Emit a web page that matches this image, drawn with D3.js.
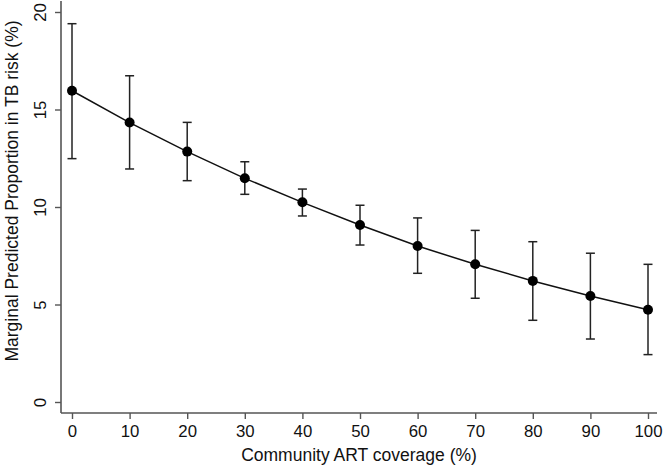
<!DOCTYPE html>
<html><head><meta charset="utf-8">
<script src="https://cdn.jsdelivr.net/npm/d3@7"></script>
<style>body{margin:0;background:#fff}svg{display:block}text{font-family:"Liberation Sans",Arial,sans-serif}</style>
</head><body><svg id="c" width="663" height="466"></svg>
<script>
const coverage = [0,10,20,30,40,50,60,70,80,90,100];
const margin = [15.96,14.33,12.84,11.47,10.24,9.08,8.00,7.06,6.21,5.44,4.73];
const upper = [19.40,16.73,14.34,12.32,10.92,10.09,9.44,8.80,8.22,7.63,7.06];
const lower = [12.48,11.95,11.35,10.65,9.54,8.05,6.60,5.32,4.19,3.23,2.43];
const xTicks = [0,10,20,30,40,50,60,70,80,90,100];
const yTicks = [0,5,10,15,20];

const svg = d3.select("#c");
const x = d3.scaleLinear().domain([0,100]).range([72,648]);
const y = d3.scaleLinear().domain([0,20]).range([402,12]);
const axisColor = "#555";

const xAxis = svg.append("g").attr("transform","translate(0,413)")
  .call(d3.axisBottom(x).tickValues(xTicks).tickSize(6).tickSizeOuter(0).tickPadding(4));
xAxis.select(".domain").attr("d","M61,0H657");
const yAxis = svg.append("g").attr("transform","translate(61,0)")
  .call(d3.axisLeft(y).tickValues(yTicks).tickSize(6).tickSizeOuter(0));
yAxis.select(".domain").attr("d","M0,1V413");
[xAxis,yAxis].forEach(g=>{
  g.selectAll(".domain").attr("stroke",axisColor).attr("stroke-width",1.6);
  g.selectAll(".tick line").attr("stroke",axisColor).attr("stroke-width",1.4);
  g.selectAll(".tick text").attr("fill","#111").attr("font-size",16.8);
});
yAxis.selectAll(".tick text")
  .attr("x",null).attr("dy",null)
  .attr("text-anchor","middle")
  .attr("transform","translate(-15,0) rotate(-90)");
xAxis.selectAll(".tick text").attr("dy","0.85em");

svg.append("text").attr("x",359).attr("y",461).attr("text-anchor","middle")
  .attr("font-size",17.5).attr("fill","#111").text("Community ART coverage (%)");
svg.append("text").attr("transform",`translate(12,191) rotate(-90)`).attr("text-anchor","middle")
  .attr("dy","0.35em").attr("font-size",17.5).attr("fill","#111").text("Marginal Predicted Proportion in TB risk (%)");

const eb = svg.append("g").attr("stroke","#222").attr("stroke-width",1.5).attr("fill","none");
coverage.forEach((c,i)=>{
  eb.append("line").attr("x1",x(c)).attr("x2",x(c)).attr("y1",y(upper[i])).attr("y2",y(lower[i]));
  eb.append("line").attr("x1",x(c)-4.5).attr("x2",x(c)+4.5).attr("y1",y(upper[i])).attr("y2",y(upper[i]));
  eb.append("line").attr("x1",x(c)-4.5).attr("x2",x(c)+4.5).attr("y1",y(lower[i])).attr("y2",y(lower[i]));
});
svg.append("path").datum(coverage.map((c,i)=>[c,margin[i]]))
  .attr("d",d3.line().x(d=>x(d[0])).y(d=>y(d[1])))
  .attr("fill","none").attr("stroke","#111").attr("stroke-width",1.5);
svg.append("g").selectAll("circle").data(coverage).join("circle")
  .attr("cx",d=>x(d)).attr("cy",(d,i)=>y(margin[i])).attr("r",5).attr("fill","#000");
</script></body></html>
